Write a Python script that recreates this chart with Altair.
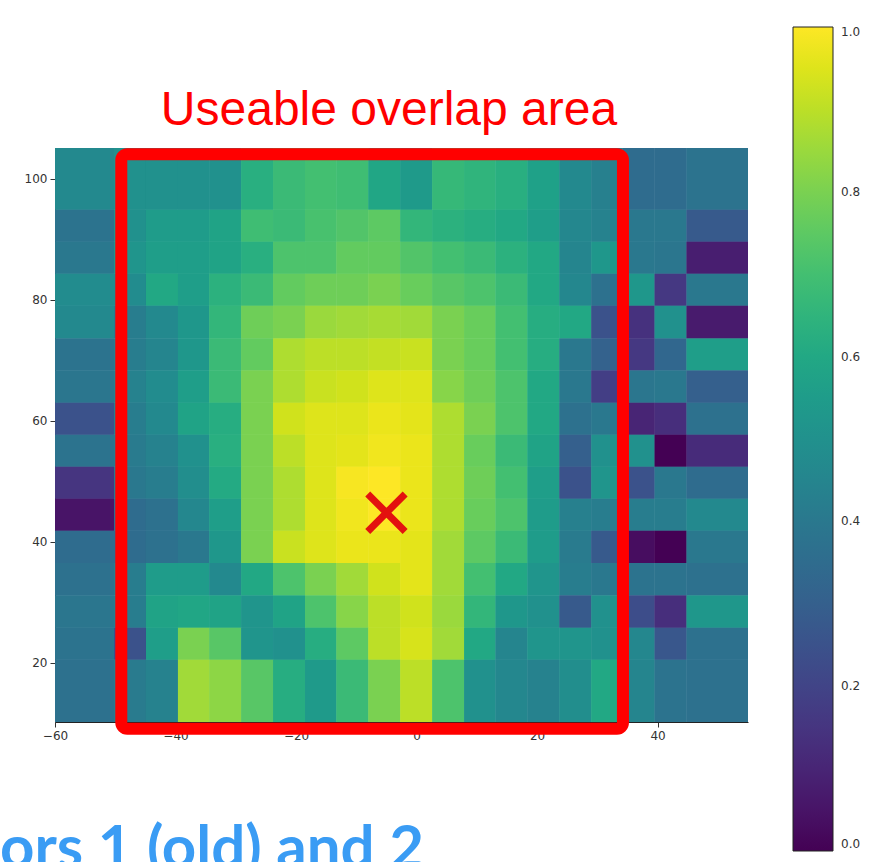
import altair as alt
import pandas as pd

# Cell boundaries of the overlap map (horizontal offset, vertical offset)
x_edges = [-60.0, -50.2, -44.9, -39.6, -34.4, -29.1, -23.8, -18.5, -13.3, -8.0,
           -2.7, 2.6, 7.9, 13.1, 18.4, 23.7, 29.0, 34.2, 39.5, 44.8, 55.0]
y_edges = [105.1, 94.9, 89.6, 84.3, 79.0, 73.6, 68.3, 63.0, 57.7, 52.4,
           47.1, 41.8, 36.5, 31.1, 25.8, 20.5, 10.2]

# Normalised overlap per cell, one list per row (top row first)
row_01 = [0.47, 0.50, 0.50, 0.50, 0.50, 0.63, 0.68, 0.70, 0.69, 0.59, 0.54, 0.67, 0.65, 0.63, 0.57, 0.47, 0.43, 0.35, 0.35, 0.38]
row_02 = [0.38, 0.50, 0.55, 0.55, 0.58, 0.69, 0.68, 0.71, 0.73, 0.75, 0.66, 0.64, 0.62, 0.60, 0.56, 0.46, 0.44, 0.40, 0.40, 0.28]
row_03 = [0.40, 0.52, 0.56, 0.56, 0.58, 0.63, 0.72, 0.72, 0.76, 0.76, 0.73, 0.70, 0.68, 0.64, 0.60, 0.45, 0.53, 0.40, 0.39, 0.08]
row_04 = [0.48, 0.48, 0.60, 0.56, 0.64, 0.68, 0.76, 0.78, 0.78, 0.80, 0.77, 0.74, 0.72, 0.68, 0.60, 0.46, 0.37, 0.53, 0.16, 0.40]
row_05 = [0.47, 0.42, 0.47, 0.53, 0.66, 0.78, 0.80, 0.85, 0.86, 0.87, 0.86, 0.80, 0.77, 0.70, 0.62, 0.60, 0.25, 0.14, 0.50, 0.07]
row_06 = [0.38, 0.42, 0.45, 0.53, 0.68, 0.76, 0.88, 0.90, 0.90, 0.91, 0.92, 0.80, 0.77, 0.70, 0.62, 0.40, 0.31, 0.16, 0.33, 0.56]
row_07 = [0.39, 0.44, 0.48, 0.56, 0.68, 0.80, 0.88, 0.92, 0.93, 0.95, 0.95, 0.82, 0.78, 0.72, 0.60, 0.40, 0.18, 0.39, 0.40, 0.30]
row_08 = [0.25, 0.42, 0.47, 0.58, 0.62, 0.80, 0.93, 0.95, 0.95, 0.97, 0.96, 0.88, 0.80, 0.72, 0.60, 0.37, 0.40, 0.10, 0.13, 0.37]
row_09 = [0.38, 0.41, 0.44, 0.50, 0.63, 0.80, 0.90, 0.95, 0.96, 0.98, 0.97, 0.88, 0.77, 0.68, 0.58, 0.30, 0.50, 0.50, 0.00, 0.12]
row_10 = [0.15, 0.40, 0.42, 0.49, 0.61, 0.80, 0.88, 0.95, 0.99, 1.00, 0.97, 0.88, 0.78, 0.70, 0.56, 0.25, 0.52, 0.25, 0.40, 0.35]
row_11 = [0.05, 0.35, 0.37, 0.46, 0.56, 0.80, 0.88, 0.95, 0.98, 1.00, 0.97, 0.88, 0.77, 0.72, 0.55, 0.43, 0.42, 0.42, 0.42, 0.47]
row_12 = [0.35, 0.35, 0.37, 0.40, 0.53, 0.80, 0.92, 0.95, 0.97, 0.97, 0.96, 0.86, 0.75, 0.68, 0.55, 0.41, 0.28, 0.03, 0.00, 0.40]
row_13 = [0.37, 0.42, 0.55, 0.55, 0.47, 0.60, 0.72, 0.80, 0.86, 0.93, 0.96, 0.86, 0.70, 0.60, 0.52, 0.42, 0.40, 0.38, 0.38, 0.37]
row_14 = [0.39, 0.42, 0.58, 0.59, 0.58, 0.52, 0.58, 0.72, 0.82, 0.90, 0.93, 0.85, 0.66, 0.53, 0.50, 0.28, 0.50, 0.23, 0.13, 0.53]
row_15 = [0.38, 0.25, 0.56, 0.80, 0.74, 0.52, 0.50, 0.62, 0.75, 0.90, 0.94, 0.86, 0.60, 0.45, 0.52, 0.52, 0.50, 0.46, 0.27, 0.37]
row_16 = [0.37, 0.41, 0.44, 0.86, 0.83, 0.74, 0.62, 0.54, 0.68, 0.80, 0.90, 0.72, 0.50, 0.46, 0.44, 0.49, 0.60, 0.45, 0.38, 0.37]

# Usable overlap region and best-overlap position
box_x = [-49.0, 34.25]
box_y = [9.1, 104.05]
peak_x = [-5.0]
peak_y = [44.8]

x_ticks = [-60, -40, -20, 0, 20, 40]
y_ticks = [20, 40, 60, 80, 100]
cbar_ticks = [0.0, 0.2, 0.4, 0.6, 0.8, 1.0]

title_text = "Useable overlap area"
caption_text = "ors 1 (old) and 2"

rows = [row_01, row_02, row_03, row_04, row_05, row_06, row_07, row_08,
        row_09, row_10, row_11, row_12, row_13, row_14, row_15, row_16]
cells = []
for i, row in enumerate(rows):
    for j, v in enumerate(row):
        cells.append({"x0": x_edges[j], "x1": x_edges[j + 1],
                      "y0": y_edges[i + 1], "y1": y_edges[i], "v": v})
cells = pd.DataFrame(cells)

xs = alt.Scale(domain=[x_edges[0], x_edges[-1]], nice=False, zero=False)
ys = alt.Scale(domain=[y_edges[-1], y_edges[0]], nice=False, zero=False)
cs = alt.Scale(scheme="viridis", domain=[0, 1])

axis_style = dict(title=None, grid=False, labelFontSize=12, labelColor="#333",
                  labelFont="DejaVu Sans", tickColor="#333", tickSize=5,
                  domainColor="#222", labelFlush=False, labelPadding=3)

heat = alt.Chart(cells).mark_rect().encode(
    x=alt.X("x0:Q", scale=xs, axis=alt.Axis(values=x_ticks, **axis_style)),
    x2="x1:Q",
    y=alt.Y("y0:Q", scale=ys, axis=alt.Axis(values=y_ticks, **axis_style)),
    y2="y1:Q",
    color=alt.Color("v:Q", scale=cs, legend=alt.Legend(
        type="gradient", title=None, orient="none", legendX=738, legendY=-121,
        direction="vertical", gradientLength=824, gradientThickness=40,
        gradientStrokeColor="#222", gradientStrokeWidth=1,
        values=cbar_ticks, format=".1f", labelFontSize=12,
        labelFont="DejaVu Sans", labelColor="#333", labelOffset=8,
        labelOverlap=False, labelBaseline="middle", padding=0)),
)

# second pass of the same cells fills the anti-aliased seams between them
heat_fill = alt.Chart(cells).mark_rect().encode(
    x=alt.X("x0:Q", scale=xs), x2="x1:Q",
    y=alt.Y("y0:Q", scale=ys), y2="y1:Q",
    color=alt.Color("v:Q", scale=cs, legend=None),
)

box = alt.Chart(pd.DataFrame({"x0": [box_x[0]], "x1": [box_x[1]],
                              "y0": [box_y[0]], "y1": [box_y[1]]})).mark_rect(
    filled=False, stroke="#ff0000", strokeWidth=12, cornerRadius=6, opacity=1
).encode(x=alt.X("x0:Q", scale=xs), x2="x1:Q", y=alt.Y("y0:Q", scale=ys), y2="y1:Q")

peak = alt.Chart(pd.DataFrame({"x": peak_x, "y": peak_y})).mark_point(
    shape="M-1,-1L1,1M-1,1L1,-1", size=1400, filled=False,
    stroke="#e3120f", strokeWidth=7, opacity=1
).encode(x=alt.X("x:Q", scale=xs), y=alt.Y("y:Q", scale=ys))

title = alt.Chart(pd.DataFrame({"t": [title_text]})).mark_text(
    font="Liberation Sans", fontSize=48, color="#ff0000",
    align="center", baseline="alphabetic"
).encode(x=alt.value(334), y=alt.value(-23), text="t:N")

caption = alt.Chart(pd.DataFrame({"t": [caption_text]})).mark_text(
    font="Lato", fontWeight="bold", fontSize=60, color="#3a9cf4",
    align="left", baseline="alphabetic"
).encode(x=alt.value(-55), y=alt.value(720), text="t:N")

chart = alt.layer(heat, heat_fill, box, peak, title, caption).properties(
    width=693, height=574,
    padding={"left": 55, "top": 148, "right": 123, "bottom": 140},
    autosize=alt.AutoSizeParams(type="none"),
    background="white",
).configure_view(stroke=None)

chart.save("out.html", embed_options={"renderer": "svg", "actions": False})
